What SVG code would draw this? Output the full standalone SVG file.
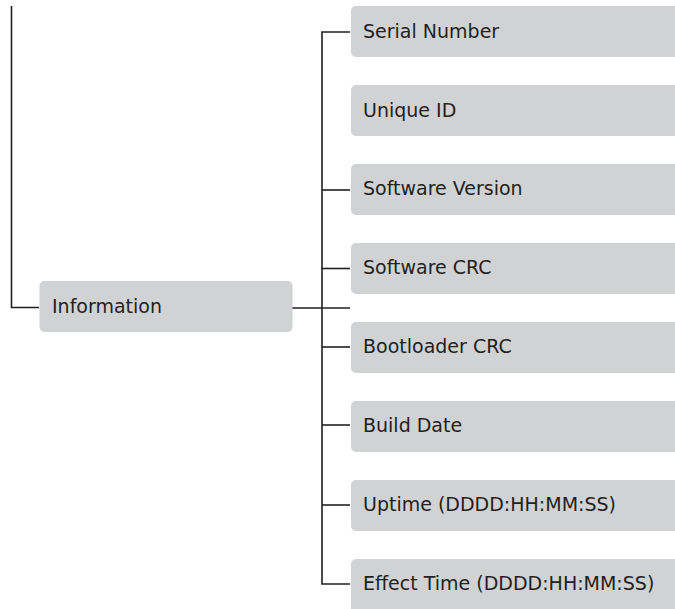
<svg xmlns="http://www.w3.org/2000/svg" width="675" height="609" viewBox="0 0 675 609">
<style>
.box{fill:#d1d2d4}
.lbl{font-family:"DejaVu Sans","Liberation Sans",sans-serif;font-size:19px;fill:#231f20}
.ln{fill:none;stroke:#231f20;stroke-width:1.6}
</style>
<rect width="675" height="609" fill="#fff"/>
<g id="connectors">
<path class="ln" d="M11.5,6 V307.5 H39"/>
<path class="ln" d="M292,308 H350"/>
<path class="ln" d="M350,32 H322 V584 H350"/>
<path class="ln" d="M322,190 H350"/>
<path class="ln" d="M322,268.5 H350"/>
<path class="ln" d="M322,347 H350"/>
<path class="ln" d="M322,425 H350"/>
<path class="ln" d="M322,505 H350"/>
</g>
<g id="information"><rect class="box" x="39.5" y="281" width="253" height="51" rx="5"/><text class="lbl" x="52" y="313">Information</text></g>
<g id="serial-number"><rect class="box" x="351" y="6" width="330" height="51" rx="5"/><text class="lbl" x="363" y="38">Serial Number</text></g>
<g id="unique-id"><rect class="box" x="351" y="85" width="330" height="51" rx="5"/><text class="lbl" x="363" y="117">Unique ID</text></g>
<g id="software-version"><rect class="box" x="351" y="164" width="330" height="51" rx="5"/><text class="lbl" x="363" y="195">Software Version</text></g>
<g id="software-crc"><rect class="box" x="351" y="243" width="330" height="51" rx="5"/><text class="lbl" x="363" y="274">Software CRC</text></g>
<g id="bootloader-crc"><rect class="box" x="351" y="322" width="330" height="51" rx="5"/><text class="lbl" x="363" y="353">Bootloader CRC</text></g>
<g id="build-date"><rect class="box" x="351" y="401" width="330" height="51" rx="5"/><text class="lbl" x="363" y="432">Build Date</text></g>
<g id="uptime"><rect class="box" x="351" y="480" width="330" height="51" rx="5"/><text class="lbl" x="363" y="511">Uptime (DDDD:HH:MM:SS)</text></g>
<g id="effect-time"><rect class="box" x="351" y="559" width="330" height="55" rx="5"/><text class="lbl" x="363" y="590">Effect Time (DDDD:HH:MM:SS)</text></g>
</svg>
